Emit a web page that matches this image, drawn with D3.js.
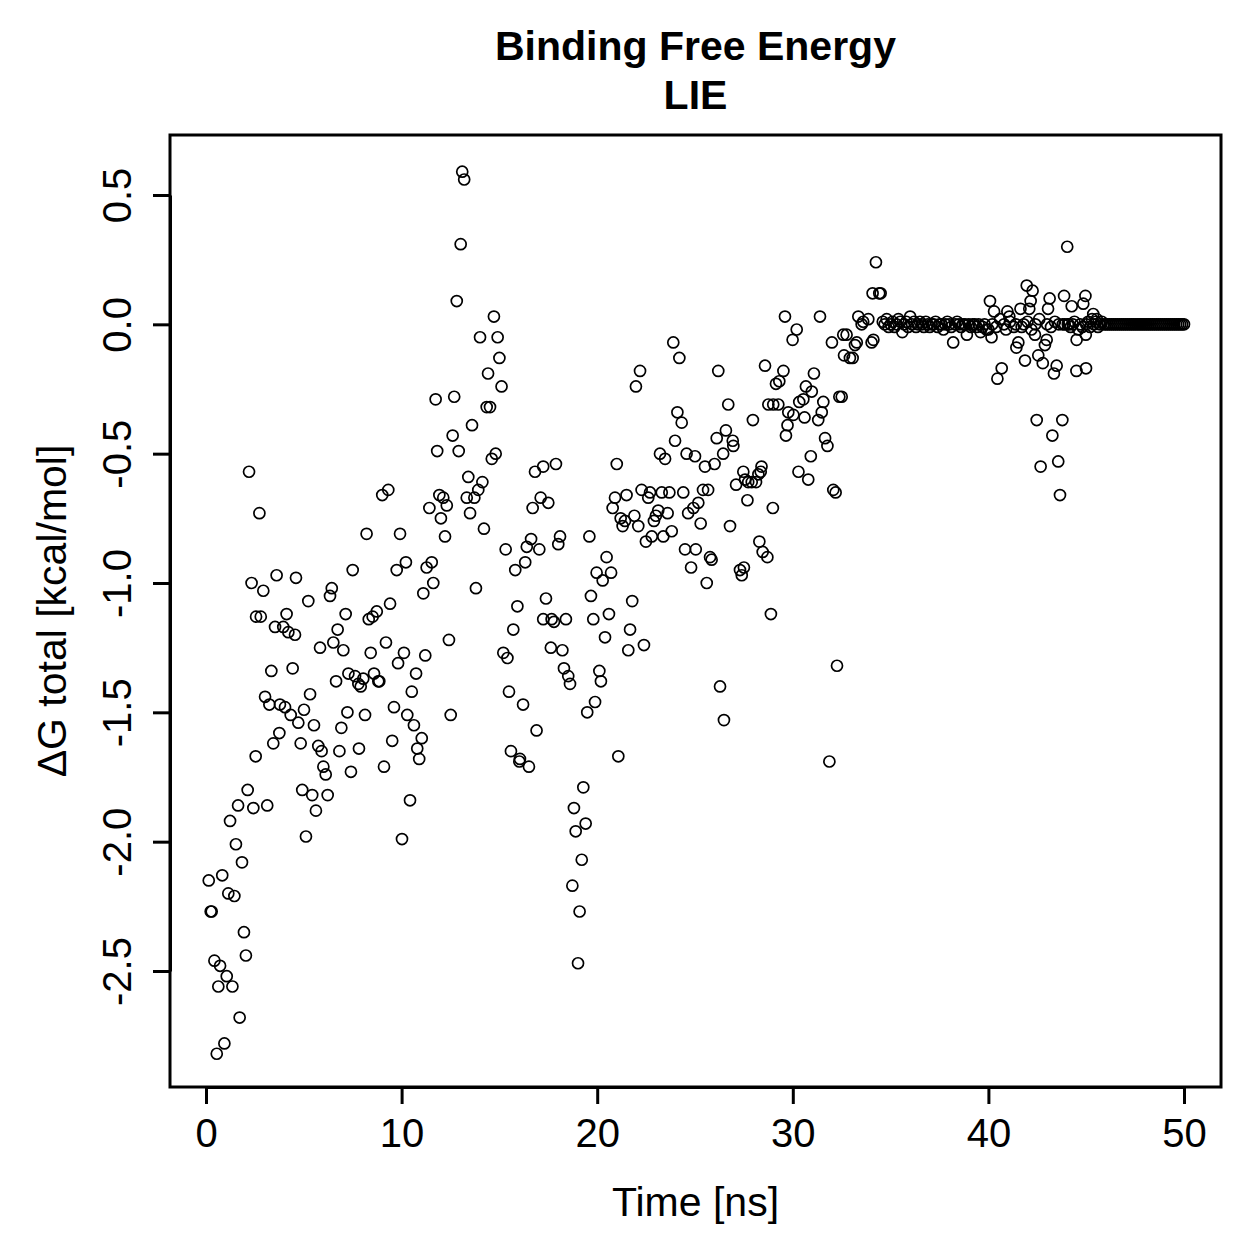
<!DOCTYPE html>
<html>
<head>
<meta charset="utf-8">
<script src="https://cdn.jsdelivr.net/npm/d3@7"></script>
<style>
  html, body { margin: 0; padding: 0; background: #ffffff; }
  svg { display: block; }
</style>
</head>
<body>
<div id="chart"></div>
<script>
// ---------------- data ----------------
const titleLines = ["Binding Free Energy", "LIE"];
const xLabel = "Time [ns]";
const yLabel = "\u0394G total [kcal/mol]";
const xTickValues = [0, 10, 20, 30, 40, 50];
const xTickLabels = ["0", "10", "20", "30", "40", "50"];
const yTickValues = [0.5, 0.0, -0.5, -1.0, -1.5, -2.0, -2.5];
const yTickLabels = ["0.5", "0.0", "-0.5", "-1.0", "-1.5", "-2.0", "-2.5"];

// time (ns) of each sample
const timeNs = [
  0.14,0.24,0.29,0.43,0.55,0.63,0.72,0.83,0.94,1.06,
  1.14,1.23,1.35,1.45,1.53,1.64,1.72,1.84,1.94,2.04,
  2.13,2.20,2.33,2.42,2.54,2.56,2.73,2.80,2.93,3.02,
  3.13,3.24,3.34,3.44,3.53,3.61,3.75,3.78,3.95,4.04,
  4.12,4.21,4.33,4.43,4.55,4.60,4.72,4.84,4.92,5.01,
  5.11,5.23,5.32,5.43,5.52,5.62,5.74,5.83,5.91,6.00,
  6.12,6.22,6.34,6.43,6.51,6.65,6.73,6.82,6.92,7.02,
  7.14,7.23,7.28,7.41,7.50,7.62,7.79,7.82,7.91,8.04,
  8.13,8.21,8.32,8.42,8.52,8.59,8.73,8.81,8.86,9.01,
  9.10,9.20,9.32,9.41,9.52,9.61,9.75,9.82,9.92,10.02,
  10.12,10.22,10.29,10.43,10.52,10.63,10.74,10.80,10.90,11.03,
  11.11,11.21,11.28,11.42,11.54,11.62,11.74,11.82,11.93,12.01,
  12.13,12.22,12.31,12.42,12.51,12.61,12.69,12.82,12.92,13.02,
  13.10,13.20,13.33,13.41,13.50,13.60,13.72,13.80,13.92,14.01,
  14.13,14.21,14.35,14.42,14.52,14.61,14.72,14.81,14.91,15.00,
  15.11,15.20,15.32,15.41,15.49,15.59,15.71,15.81,15.92,16.02,
  16.05,16.21,16.32,16.40,16.51,16.62,16.70,16.82,16.90,17.04,
  17.11,17.24,17.24,17.38,17.50,17.63,17.67,17.79,17.89,18.01,
  18.10,18.22,18.30,18.40,18.52,18.61,18.73,18.81,18.90,19.02,
  19.10,19.21,19.29,19.41,19.49,19.60,19.68,19.80,19.89,19.97,
  20.11,20.19,20.28,20.40,20.48,20.60,20.71,20.79,20.91,21.00,
  21.08,21.20,21.30,21.42,21.50,21.59,21.68,21.79,21.90,21.98,
  22.10,22.19,22.27,22.39,22.49,22.61,22.70,22.79,22.90,23.00,
  23.12,23.21,23.30,23.38,23.47,23.60,23.69,23.81,23.89,23.98,
  24.10,24.20,24.32,24.40,24.49,24.57,24.65,24.80,24.92,25.00,
  25.04,25.17,25.29,25.41,25.51,25.60,25.67,25.77,25.85,26.00,
  26.11,26.19,26.28,26.44,26.48,26.58,26.70,26.79,26.93,26.96,
  27.10,27.30,27.39,27.47,27.50,27.56,27.68,27.72,27.90,27.96,
  28.12,28.24,28.29,28.36,28.40,28.46,28.58,28.70,28.75,28.88,
  28.98,29.00,29.14,29.26,29.31,29.52,29.60,29.65,29.73,29.77,
  29.99,30.03,30.20,30.29,30.33,30.54,30.60,30.67,30.79,30.92,
  30.97,31.08,31.30,31.39,31.48,31.56,31.65,31.77,31.87,32.00,
  32.07,32.19,32.26,32.38,32.50,32.58,32.62,32.75,32.92,33.06,
  33.18,33.27,33.35,33.52,33.60,33.86,34.03,34.08,34.12,34.25,
  34.42,34.49,34.60,34.70,34.80,34.90,35.00,35.10,35.20,35.30,
  35.40,35.50,35.60,35.70,35.80,35.90,36.00,36.10,36.20,36.30,
  36.40,36.50,36.60,36.70,36.80,36.90,37.00,37.10,37.20,37.30,
  37.40,37.50,37.60,37.70,37.80,37.90,38.00,38.10,38.20,38.30,
  38.40,38.50,38.60,38.70,38.80,38.90,39.00,39.10,39.20,39.30,
  39.40,39.50,39.60,39.70,39.80,39.90,40.00,40.08,40.16,40.20,
  40.29,40.40,40.46,40.60,40.68,40.80,40.90,40.97,41.07,41.10,
  41.30,41.40,41.43,41.53,41.64,41.70,41.80,41.87,41.96,42.00,
  42.09,42.16,42.20,42.26,42.38,42.40,42.47,42.55,42.60,42.67,
  42.78,42.89,42.98,43.00,43.05,43.13,43.20,43.27,43.35,43.40,
  43.49,43.57,43.60,43.66,43.78,43.80,43.87,43.90,44.03,44.06,
  44.10,44.20,44.26,44.31,44.40,44.50,44.51,44.60,44.70,44.80,
  44.85,44.96,44.98,44.99,45.00,45.10,45.20,45.30,45.36,45.40,
  45.50,45.54,45.60,45.70,45.80,45.90,46.00,46.10,46.20,46.30,
  46.40,46.50,46.60,46.70,46.80,46.90,47.00,47.10,47.20,47.30,
  47.40,47.50,47.60,47.70,47.80,47.90,48.00,48.10,48.20,48.30,
  48.40,48.50,48.60,48.70,48.80,48.90,49.00,49.10,49.20,49.30,
  49.40,49.50,49.60,49.70,49.80,49.90,50.00
];

// Delta G total (kcal/mol) of each sample, same order as timeNs
const deltaG = [
  -2.15,-2.27,-2.27,-2.46,-2.82,-2.56,-2.48,-2.13,-2.78,-2.52,
  -2.20,-1.92,-2.56,-2.21,-2.01,-1.86,-2.68,-2.08,-2.35,-2.44,
  -1.80,-0.57,-1.00,-1.87,-1.67,-1.13,-0.73,-1.13,-1.03,-1.44,
  -1.86,-1.47,-1.34,-1.62,-1.17,-0.97,-1.58,-1.47,-1.17,-1.48,
  -1.12,-1.19,-1.51,-1.33,-1.20,-0.98,-1.54,-1.62,-1.80,-1.49,
  -1.98,-1.07,-1.43,-1.82,-1.55,-1.88,-1.63,-1.25,-1.65,-1.71,
  -1.74,-1.82,-1.05,-1.02,-1.23,-1.38,-1.18,-1.65,-1.56,-1.26,
  -1.12,-1.50,-1.35,-1.73,-0.95,-1.36,-1.39,-1.64,-1.40,-1.37,
  -1.51,-0.81,-1.14,-1.27,-1.13,-1.35,-1.11,-1.38,-1.38,-0.66,
  -1.71,-1.23,-0.64,-1.08,-1.61,-1.48,-0.95,-1.31,-0.81,-1.99,
  -1.27,-0.92,-1.51,-1.84,-1.42,-1.55,-1.35,-1.64,-1.68,-1.60,
  -1.04,-1.28,-0.94,-0.71,-0.92,-1.00,-0.29,-0.49,-0.66,-0.75,
  -0.67,-0.82,-0.70,-1.22,-1.51,-0.43,-0.28,0.09,-0.49,0.31,
  0.59,0.56,-0.67,-0.59,-0.73,-0.39,-0.67,-1.02,-0.64,-0.05,
  -0.61,-0.79,-0.32,-0.19,-0.32,-0.52,0.03,-0.50,-0.05,-0.13,
  -0.24,-1.27,-0.87,-1.29,-1.42,-1.65,-1.18,-0.95,-1.09,-1.69,
  -1.68,-1.47,-0.92,-0.86,-1.71,-0.83,-0.71,-0.57,-1.57,-0.87,
  -0.67,-0.55,-1.14,-1.06,-0.69,-1.25,-1.14,-1.15,-0.54,-0.85,
  -0.82,-1.26,-1.33,-1.14,-1.36,-1.39,-2.17,-1.87,-1.96,-2.47,
  -2.27,-2.07,-1.79,-1.93,-1.50,-0.82,-1.05,-1.14,-1.46,-0.96,
  -1.34,-1.38,-0.99,-1.21,-0.90,-1.12,-0.96,-0.71,-0.67,-0.54,
  -1.67,-0.75,-0.78,-0.76,-0.66,-1.26,-1.18,-1.07,-0.74,-0.24,
  -0.78,-0.18,-0.64,-1.24,-0.84,-0.67,-0.65,-0.82,-0.76,-0.74,
  -0.72,-0.50,-0.65,-0.82,-0.52,-0.73,-0.65,-0.80,-0.07,-0.45,
  -0.34,-0.13,-0.38,-0.65,-0.87,-0.50,-0.73,-0.94,-0.71,-0.51,
  -0.87,-0.69,-0.77,-0.64,-0.55,-1.00,-0.64,-0.90,-0.91,-0.54,
  -0.44,-0.18,-1.40,-0.50,-1.53,-0.41,-0.31,-0.78,-0.45,-0.47,
  -0.62,-0.95,-0.97,-0.57,-0.94,-0.60,-0.68,-0.61,-0.61,-0.37,
  -0.61,-0.58,-0.84,-0.57,-0.55,-0.88,-0.16,-0.90,-0.31,-1.12,
  -0.71,-0.31,-0.23,-0.31,-0.22,-0.18,0.03,-0.43,-0.39,-0.34,
  -0.06,-0.35,-0.02,-0.57,-0.30,-0.29,-0.36,-0.24,-0.60,-0.51,
  -0.26,-0.19,-0.37,0.03,-0.34,-0.30,-0.44,-0.47,-1.69,-0.07,
  -0.64,-0.65,-1.32,-0.28,-0.28,-0.04,-0.12,-0.04,-0.13,-0.13,
  -0.08,-0.07,0.03,0.00,0.01,0.02,-0.07,0.12,-0.06,0.24,
  0.12,0.12,0.01,0.00,0.02,-0.01,0.00,0.01,-0.01,0.00,
  0.02,0.01,-0.03,0.00,0.01,-0.01,0.03,0.00,0.01,-0.01,
  0.00,0.01,0.00,-0.01,0.01,0.00,-0.01,0.00,0.00,0.01,
  -0.01,0.00,0.00,-0.02,0.00,0.01,0.00,-0.01,-0.07,0.00,
  0.01,0.00,-0.01,0.00,0.00,-0.04,0.00,-0.01,0.00,0.00,
  -0.01,0.00,-0.03,-0.01,0.00,-0.02,-0.02,0.09,-0.05,0.00,
  0.05,-0.01,-0.21,0.02,-0.17,0.00,-0.02,0.05,0.03,0.01,
  -0.01,0.00,-0.09,-0.07,0.06,-0.01,0.00,-0.14,0.15,0.01,
  0.06,0.09,-0.02,0.13,-0.04,0.00,-0.37,-0.12,0.02,-0.55,
  -0.15,-0.08,-0.06,0.00,0.06,0.10,-0.01,-0.43,-0.19,0.01,
  -0.16,-0.53,0.00,-0.66,-0.37,0.00,0.11,0.00,0.30,0.00,
  0.00,-0.01,0.07,0.00,0.01,-0.18,-0.06,-0.02,0.00,-0.01,
  0.08,0.11,-0.04,-0.17,0.00,0.01,-0.01,0.02,0.04,0.00,
  0.01,0.02,-0.01,0.00,0.01,0.00,0.00,0.00,0.00,0.00,
  0.00,0.00,0.00,0.00,0.00,0.00,0.00,0.00,0.00,0.00,
  0.00,0.00,0.00,0.00,0.00,0.00,0.00,0.00,0.00,0.00,
  0.00,0.00,0.00,0.00,0.00,0.00,0.00,0.00,0.00,0.00,
  0.00,0.00,0.00,0.00,0.00,0.00,0.00
];

// ---------------- drawing ----------------
const W = 1259, H = 1259;
const box = { left: 170, right: 1221, top: 135, bottom: 1087 };
const fontFamily = "'Liberation Sans', Arial, Helvetica, sans-serif";

const svg = d3.select("#chart").append("svg")
  .attr("width", W).attr("height", H)
  .attr("viewBox", `0 0 ${W} ${H}`);

svg.append("rect").attr("width", W).attr("height", H).attr("fill", "#ffffff");

const x = d3.scaleLinear().domain([0, 50]).range([206, 1184]);
const y = d3.scaleLinear().domain([-2.5, 0.5]).range([971, 195]);

// points
const pts = timeNs.map((t, i) => ({ t, v: deltaG[i] }));
svg.append("g")
  .selectAll("circle")
  .data(pts)
  .enter().append("circle")
  .attr("cx", d => x(d.t))
  .attr("cy", d => y(d.v))
  .attr("r", 5.5)
  .attr("fill", "none")
  .attr("stroke", "#000")
  .attr("stroke-width", 1.7);

// box
svg.append("rect")
  .attr("x", box.left).attr("y", box.top)
  .attr("width", box.right - box.left).attr("height", box.bottom - box.top)
  .attr("fill", "none").attr("stroke", "#000").attr("stroke-width", 3);

// x axis
const xAxis = d3.axisBottom(x)
  .tickValues(xTickValues)
  .tickFormat((d, i) => xTickLabels[i])
  .tickSize(17).tickSizeOuter(0);
const gx = svg.append("g").attr("transform", `translate(0,${box.bottom})`).call(xAxis);
gx.select(".domain").attr("stroke", "#000").attr("stroke-width", 3);
gx.selectAll(".tick line").attr("stroke", "#000").attr("stroke-width", 3);
gx.selectAll(".tick text")
  .attr("y", 60).attr("dy", 0)
  .attr("fill", "#000")
  .style("font-family", fontFamily).style("font-size", "40px");

// y axis
const yAxis = d3.axisLeft(y)
  .tickValues(yTickValues)
  .tickFormat((d, i) => yTickLabels[i])
  .tickSize(17).tickSizeOuter(0);
const gy = svg.append("g").attr("transform", `translate(${box.left},0)`).call(yAxis);
gy.select(".domain").attr("stroke", "#000").attr("stroke-width", 3);
gy.selectAll(".tick line").attr("stroke", "#000").attr("stroke-width", 3);
gy.selectAll(".tick text")
  .attr("x", 0).attr("y", -39).attr("dy", 0)
  .attr("transform", "rotate(-90)")
  .style("text-anchor", "middle")
  .attr("fill", "#000")
  .style("font-family", fontFamily).style("font-size", "40px");

// titles
const cx = (box.left + box.right) / 2;
svg.append("text")
  .attr("x", cx).attr("y", 60)
  .attr("text-anchor", "middle")
  .style("font-family", fontFamily).style("font-size", "41px").style("font-weight", "bold")
  .text(titleLines[0]);
svg.append("text")
  .attr("x", cx).attr("y", 109)
  .attr("text-anchor", "middle")
  .style("font-family", fontFamily).style("font-size", "41px").style("font-weight", "bold")
  .text(titleLines[1]);

// axis labels
svg.append("text")
  .attr("x", cx).attr("y", 1216)
  .attr("text-anchor", "middle")
  .style("font-family", fontFamily).style("font-size", "41px")
  .text(xLabel);
svg.append("text")
  .attr("transform", `translate(66,${(box.top + box.bottom) / 2}) rotate(-90)`)
  .attr("text-anchor", "middle")
  .style("font-family", fontFamily).style("font-size", "41px")
  .text(yLabel);
</script>
</body>
</html>
